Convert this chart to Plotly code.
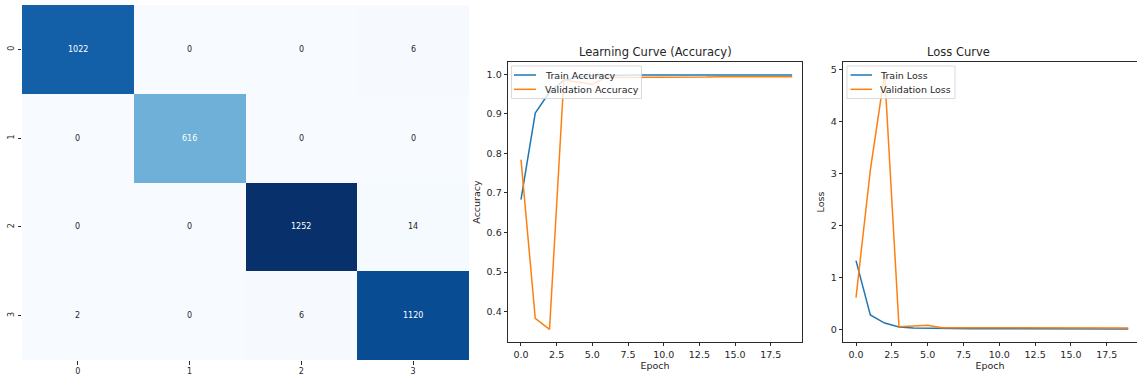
import plotly.graph_objects as go

# ---------------- data ----------------
classes = [0, 1, 2, 3]
class_labels = ["0", "1", "2", "3"]
conf_matrix = [
    [1022, 0, 0, 6],
    [0, 616, 0, 0],
    [0, 0, 1252, 14],
    [2, 0, 6, 1120],
]

epochs = list(range(20))
train_acc = [0.683, 0.902, 0.955, 0.985, 0.993, 0.996, 0.997, 0.998, 0.998, 0.998,
             0.998, 0.998, 0.998, 0.999, 0.998, 0.999, 0.999, 0.999, 0.998, 0.998]
val_acc = [0.784, 0.383, 0.355, 0.986, 0.980, 0.975, 0.992, 0.992, 0.992, 0.993,
           0.993, 0.993, 0.993, 0.993, 0.994, 0.994, 0.994, 0.994, 0.994, 0.994]
train_loss = [1.32, 0.275, 0.12, 0.045, 0.025, 0.018, 0.014, 0.012, 0.011, 0.010,
              0.009, 0.009, 0.008, 0.008, 0.007, 0.007, 0.007, 0.006, 0.006, 0.006]
val_loss = [0.61, 3.06, 4.92, 0.05, 0.065, 0.08, 0.03, 0.03, 0.028, 0.028,
            0.027, 0.027, 0.026, 0.026, 0.026, 0.025, 0.025, 0.025, 0.025, 0.025]

acc_ticks = [0.4, 0.5, 0.6, 0.7, 0.8, 0.9, 1.0]
loss_ticks = [0, 1, 2, 3, 4, 5]
epoch_ticks = [0, 2.5, 5, 7.5, 10, 12.5, 15, 17.5]

# ---------------- layout helpers ----------------
W, H = 1137, 381
def px(x):
    return x / W
def py(y):
    return (H - y) / H

BLUE = "#1f77b4"
ORANGE = "#ff7f0e"
TXT = "#262626"
AX = "#2b2b2b"
FONT = "DejaVu Sans"

fig = go.Figure()

# ---------------- heatmap ----------------
zmax = max(max(r) for r in conf_matrix)
fig.add_trace(go.Heatmap(
    z=conf_matrix, x=classes, y=classes, colorscale="Blues",
    zmin=0, zmax=zmax, showscale=False,
    xaxis="x", yaxis="y", hoverinfo="z",
))
annotations = []
for i, row in enumerate(conf_matrix):
    for j, v in enumerate(row):
        annotations.append(dict(
            x=j, y=i, xref="x", yref="y", text=str(v), showarrow=False,
            font=dict(family=FONT, size=8, color="white" if v > 0.35 * zmax else TXT),
        ))

# ---------------- accuracy ----------------
fig.add_trace(go.Scatter(x=epochs, y=train_acc, mode="lines", name="Train Accuracy",
                         line=dict(color=BLUE, width=1.5), xaxis="x2", yaxis="y2", showlegend=False))
fig.add_trace(go.Scatter(x=epochs, y=val_acc, mode="lines", name="Validation Accuracy",
                         line=dict(color=ORANGE, width=1.5), xaxis="x2", yaxis="y2", showlegend=False))

# ---------------- loss ----------------
fig.add_trace(go.Scatter(x=epochs, y=train_loss, mode="lines", name="Train Loss",
                         line=dict(color=BLUE, width=1.5), xaxis="x3", yaxis="y3", showlegend=False))
fig.add_trace(go.Scatter(x=epochs, y=val_loss, mode="lines", name="Validation Loss",
                         line=dict(color=ORANGE, width=1.5), xaxis="x3", yaxis="y3", showlegend=False))

tickfont = dict(family=FONT, size=9.5, color=TXT)
common = dict(showgrid=False, zeroline=False, ticks="outside", ticklen=3.5, tickwidth=0.8,
              tickcolor=AX, tickfont=tickfont, automargin=False)
boxed = dict(showline=True, linecolor=AX, linewidth=0.8, mirror=True)
hm_font = dict(family=FONT, size=8, color=TXT)

fig.update_layout(
    width=W, height=H, margin=dict(l=0, r=0, t=0, b=0),
    paper_bgcolor="white", plot_bgcolor="white", showlegend=False,
    font=dict(family=FONT, color=TXT),
    xaxis=dict(domain=[px(22), px(469)], range=[-0.5, 3.5], tickvals=classes, ticktext=class_labels,
               showline=False, **{**common, "tickfont": hm_font}),
    yaxis=dict(domain=[py(360), py(5)], range=[3.5, -0.5], tickvals=classes, ticktext=class_labels,
               tickangle=-90, showline=False, **{**common, "tickfont": hm_font}),
    xaxis2=dict(domain=[px(508), px(802)], range=[-0.91, 19.69], anchor="y2", tickvals=epoch_ticks,
                tickformat=".1f", title=dict(text="Epoch", font=dict(family=FONT, size=9.5, color=TXT), standoff=3),
                **common, **boxed),
    yaxis2=dict(domain=[py(342), py(62)], range=[0.323, 1.031], anchor="x2", tickvals=acc_ticks,
                tickformat=".1f", title=dict(text="Accuracy", font=dict(family=FONT, size=9.5, color=TXT), standoff=4),
                **common, **boxed),
    xaxis3=dict(domain=[px(843), 1.0], range=[-0.907, 19.61], anchor="y3", tickvals=epoch_ticks,
                tickformat=".1f", title=dict(text="Epoch", font=dict(family=FONT, size=9.5, color=TXT), standoff=3),
                **common, **boxed),
    yaxis3=dict(domain=[py(342), py(62)], range=[-0.244, 5.14], anchor="x3", tickvals=loss_ticks,
                title=dict(text="Loss", font=dict(family=FONT, size=9.5, color=TXT), standoff=4),
                **common, **boxed),
)

# titles
annotations.append(dict(x=px(655), y=py(52), xref="paper", yref="paper", text="Learning Curve (Accuracy)",
                        showarrow=False, font=dict(family=FONT, size=11.5, color=TXT), yanchor="middle"))
annotations.append(dict(x=px(992), y=py(52), xref="paper", yref="paper", text="Loss Curve",
                        showarrow=False, font=dict(family=FONT, size=11.5, color=TXT), yanchor="middle"))

# manual matplotlib-style legends
shapes = []
def legend(box, line_x, text_x, rows, entries):
    x0, y0, x1, y1 = box
    shapes.append(dict(type="rect", xref="paper", yref="paper", x0=px(x0), x1=px(x1), y0=py(y1), y1=py(y0),
                       line=dict(color="#d0d0d0", width=0.8), fillcolor="rgba(255,255,255,0.8)", layer="above"))
    for (label, color), ry in zip(entries, rows):
        shapes.append(dict(type="line", xref="paper", yref="paper", x0=px(line_x[0]), x1=px(line_x[1]),
                           y0=py(ry), y1=py(ry), line=dict(color=color, width=1.5), layer="above"))
        annotations.append(dict(x=px(text_x), y=py(ry), xref="paper", yref="paper", text=label, showarrow=False,
                                xanchor="left", yanchor="middle", font=dict(family=FONT, size=9.5, color=TXT)))

legend((511.5, 66, 641.5, 98.5), (514, 536), 542.5, (75, 89.3),
       [("Train Accuracy", BLUE), ("Validation Accuracy", ORANGE)])
legend((847, 66, 955, 98.5), (850.5, 872), 878, (75, 89.3),
       [("Train Loss", BLUE), ("Validation Loss", ORANGE)])

fig.update_layout(annotations=annotations, shapes=shapes)
fig.write_html(
    "out.html",
    config={"displayModeBar": False},
    post_script="document.body.style.margin='0';document.body.style.padding='0';"
                "document.documentElement.style.overflow='hidden';",
)
